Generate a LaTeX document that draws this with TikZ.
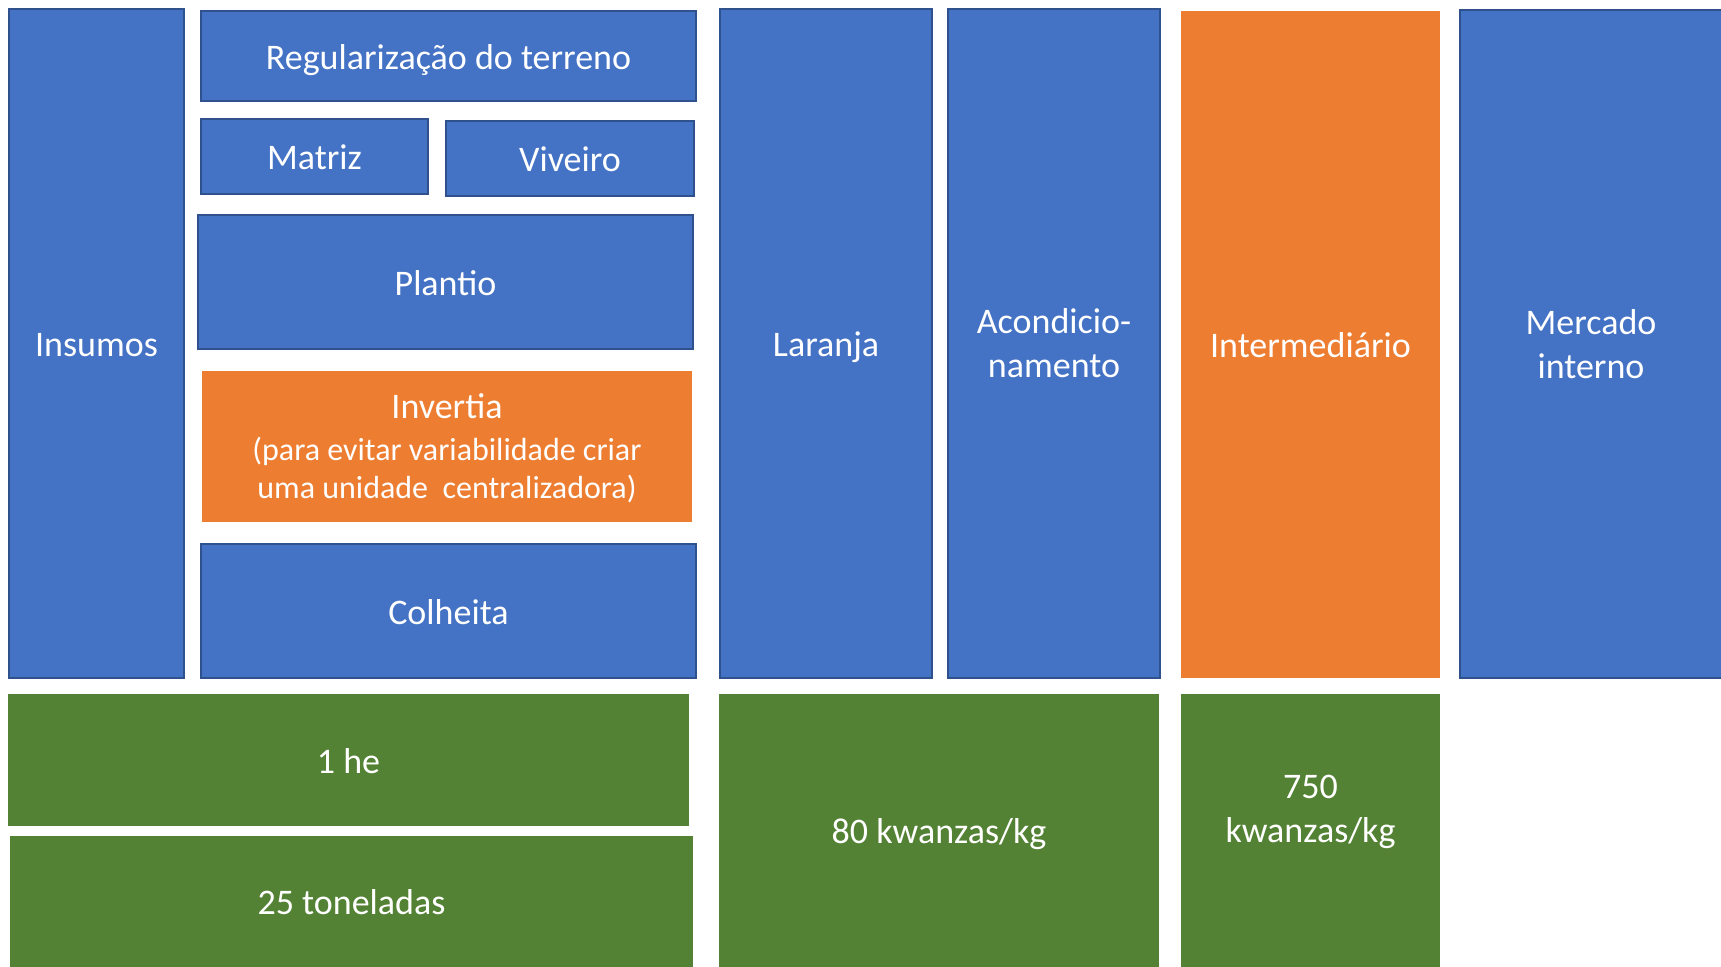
\documentclass[tikz,border=0pt]{standalone}
\usepackage{fontspec}
\setmainfont{Carlito}
\definecolor{azul}{HTML}{4472C4}
\definecolor{azulborda}{HTML}{2F528F}
\definecolor{laranja}{HTML}{ED7D31}
\definecolor{verde}{HTML}{548235}
\begin{document}
\begin{tikzpicture}[x=0.75pt, y=-0.75pt,
  caixa/.style 2 args={minimum width=#1*0.75pt, minimum height=#2*0.75pt, inner sep=0pt,
    text=white, align=center, font=\fontsize{27}{33}\selectfont},
  linha/.style={text height=20.5pt, text depth=0.5pt},
  azulbox/.style={fill=azul, draw=azulborda, line width=1.5pt},
  laranjabox/.style={fill=laranja},
  verdebox/.style={fill=verde}]
  \useasboundingbox (0,0) rectangle (1721,967);
  % coluna da esquerda
  \node[azulbox, caixa={175}{669}, linha] (insumos) at (96.5,343.5) {Insumos};
  % etapas da producao
  \node[azulbox, caixa={495}{90}, linha] (regul) at (448.5,56) {Regularização do terreno};
  \node[azulbox, caixa={227}{75}, linha] (matriz) at (314.5,156.5) {Matriz};
  \node[azulbox, caixa={248}{75}, linha] (viveiro) at (570,158.5) {Viveiro};
  \node[azulbox, caixa={495}{134}, linha] (plantio) at (445.5,282) {Plantio};
  \node[laranjabox, caixa={490}{151}] (invertia) at (447,446.5)
    {\rule{0pt}{22pt}Invertia\\[-2pt]\fontsize{24}{29}\selectfont (para evitar variabilidade criar\\[-4pt]
     \fontsize{24}{29}\selectfont uma unidade~ centralizadora)};
  \node[azulbox, caixa={495}{134}, linha] (colheita) at (448.5,611) {Colheita};
  % colunas da cadeia
  \node[azulbox, caixa={212}{669}, linha] (laranja) at (826,343.5) {Laranja};
  \node[azulbox, caixa={212}{669}] (acond) at (1054,343.5) {Acondicio-\\namento};
  \node[laranjabox, caixa={259}{667}, linha] (interm) at (1310.5,344.5) {Intermediário};
  \node[azulbox, caixa={262}{668}] (mercado) at (1591,344) {Mercado\\interno};
  % valores (verde)
  \node[verdebox, caixa={681}{132}, linha] (he) at (348.5,760) {1 he};
  \node[verdebox, caixa={683}{131}, linha] (ton) at (351.5,901.5) {25 toneladas};
  \node[verdebox, caixa={440}{273}, linha] (kw80) at (939,830.5) {80 kwanzas/kg};
  \node[verdebox, caixa={259}{273}] (kw750) at (1310.5,830.5) {750\\kwanzas/kg\\\mbox{}};
\end{tikzpicture}
\end{document}
